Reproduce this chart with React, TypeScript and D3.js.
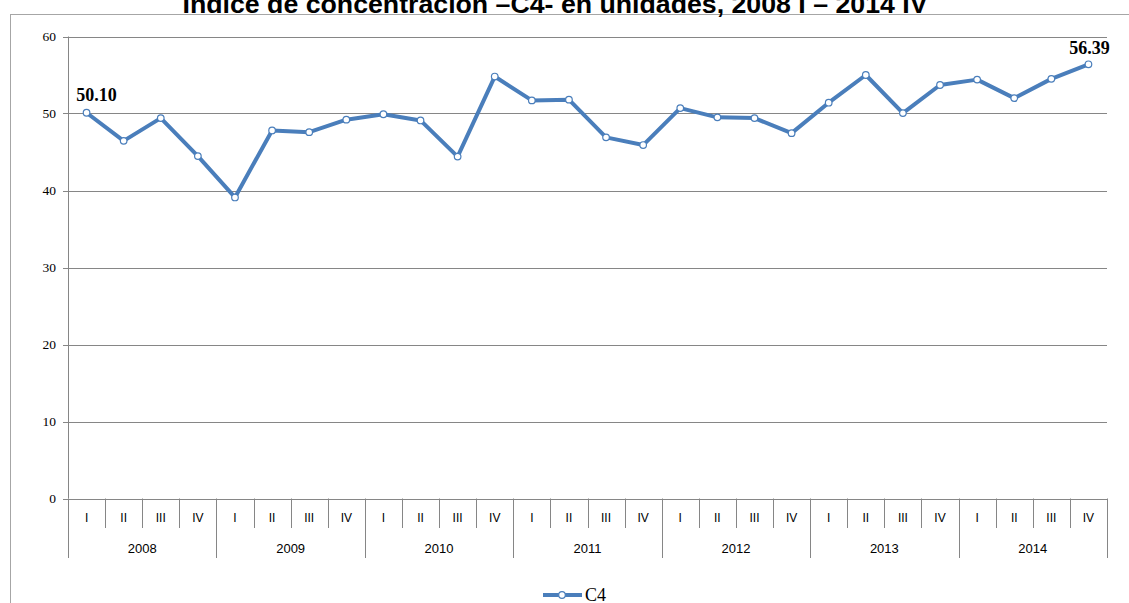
import React from 'react';
import * as d3 from 'd3';

const title = 'Índice de concentración –C4- en unidades, 2008 I – 2014 IV';
const years = ['2008', '2009', '2010', '2011', '2012', '2013', '2014'];
const quarters = ['I', 'II', 'III', 'IV'];
const c4 = [
  50.10, 46.45, 49.4, 44.47,
  39.1, 47.8, 47.58, 49.2,
  49.9, 49.1, 44.4, 54.8,
  51.7, 51.8, 46.9, 45.9,
  50.7, 49.5, 49.4, 47.45,
  51.4, 55.0, 50.05, 53.7,
  54.4, 52.0, 54.5, 56.39,
];
const yTicks = [0, 10, 20, 30, 40, 50, 60];
const seriesName = 'C4';

const W = 1129;
const H = 603;
const left = 68;
const right = 1107;
const top = 36.5;
const bottom = 498.5;
const blue = '#4a7ebb';
const grid = '#868686';

export default function App() {
  const keys = years.flatMap((y) => quarters.map((q) => `${y}-${q}`));
  const x = d3.scaleBand<string>().domain(keys).range([left, right]);
  const y = d3.scaleLinear().domain([0, 60]).range([bottom, top]);
  const cx = (i: number) => (x(keys[i]) as number) + x.bandwidth() / 2;
  const line = d3
    .line<number>()
    .x((_, i) => cx(i))
    .y((d) => y(d));
  const bw = x.bandwidth();
  const last = c4.length - 1;

  return (
    <svg
      width={W}
      height={H}
      style={{ position: 'absolute', left: 0, top: 0, background: '#fff' }}
    >
      <rect x={10.5} y={14.5} width={1130} height={620} fill="none" stroke="#a6a6a6" strokeWidth={1} />
      <text
        x={555}
        y={13}
        textAnchor="middle"
        fontFamily="Liberation Sans, Arial, sans-serif"
        fontWeight="bold"
        fontSize={25}
        textLength={745}
        lengthAdjust="spacingAndGlyphs"
        fill="#000"
      >
        {title}
      </text>

      {/* gridlines */}
      {yTicks.map((t) => (
        <g key={t}>
          <line x1={left - 5} x2={right} y1={Math.round(y(t)) + 0.5} y2={Math.round(y(t)) + 0.5} stroke={grid} strokeWidth={1} />
          <text
            x={56}
            y={y(t) + 4.5}
            textAnchor="end"
            fontFamily="Liberation Serif, Times New Roman, serif"
            fontSize={13.5}
            fill="#000"
          >
            {t}
          </text>
        </g>
      ))}
      <line x1={left + 0.5} x2={left + 0.5} y1={top} y2={bottom} stroke={grid} strokeWidth={1} />

      {/* category axis */}
      {keys.map((k, i) => {
        const x0 = x(k) as number;
        const isYearStart = i % 4 === 0;
        return (
          <g key={k}>
            <line
              x1={Math.round(x0) + 0.5}
              x2={Math.round(x0) + 0.5}
              y1={bottom}
              y2={isYearStart ? 558 : 528}
              stroke={grid}
              strokeWidth={1}
            />
            <text
              x={x0 + bw / 2}
              y={522}
              textAnchor="middle"
              fontFamily="Liberation Sans, Arial, sans-serif"
              fontSize={12}
              fill="#000"
            >
              {quarters[i % 4]}
            </text>
          </g>
        );
      })}
      <line x1={Math.round(right) + 0.5} x2={Math.round(right) + 0.5} y1={bottom} y2={558} stroke={grid} strokeWidth={1} />
      {years.map((yr, j) => {
        const x0 = x(keys[j * 4]) as number;
        return (
          <text
            key={yr}
            x={x0 + bw * 2}
            y={553}
            textAnchor="middle"
            fontFamily="Liberation Sans, Arial, sans-serif"
            fontSize={13}
            fill="#000"
          >
            {yr}
          </text>
        );
      })}

      {/* series */}
      <path d={line(c4) as string} fill="none" stroke={blue} strokeWidth={4} strokeLinejoin="round" />
      {c4.map((v, i) => (
        <circle key={i} cx={cx(i)} cy={y(v)} r={3.3} fill="#fff" stroke={blue} strokeWidth={1.2} />
      ))}

      {/* data labels */}
      <text
        x={cx(0) + 10}
        y={y(c4[0]) - 12}
        textAnchor="middle"
        fontFamily="Liberation Serif, Times New Roman, serif"
        fontWeight="bold"
        fontSize={18}
        fill="#000"
      >
        {c4[0].toFixed(2)}
      </text>
      <text
        x={cx(last) + 1}
        y={y(c4[last]) - 10}
        textAnchor="middle"
        fontFamily="Liberation Serif, Times New Roman, serif"
        fontWeight="bold"
        fontSize={18}
        fill="#000"
      >
        {c4[last].toFixed(2)}
      </text>

      {/* legend */}
      <line x1={543} x2={582} y1={595} y2={595} stroke={blue} strokeWidth={4} />
      <circle cx={562} cy={595} r={3.3} fill="#fff" stroke={blue} strokeWidth={1.2} />
      <text x={585} y={601} fontFamily="Liberation Serif, Times New Roman, serif" fontSize={18} fill="#000">
        {seriesName}
      </text>
    </svg>
  );
}
